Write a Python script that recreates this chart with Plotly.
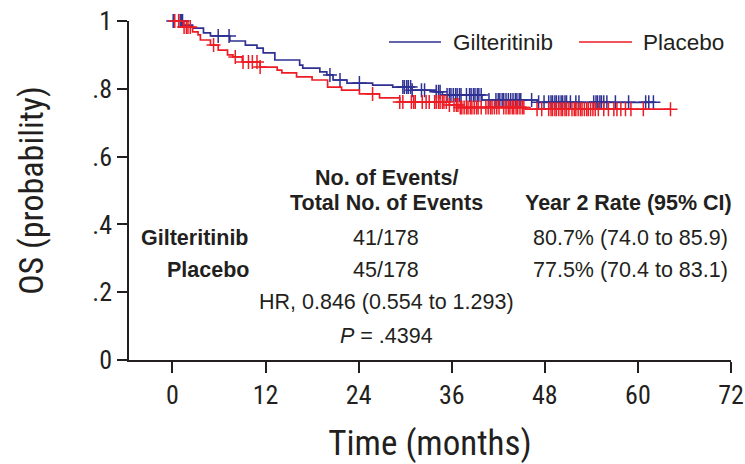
import numpy as np
import plotly.graph_objects as go

# ---- data ----
x_ticks = [0, 12, 24, 36, 48, 60, 72]
y_ticks = [0, 0.2, 0.4, 0.6, 0.8, 1.0]
y_tick_labels = ["0", ".2", ".4", ".6", ".8", "1"]

gilt_times = [0, 1.4, 2.6, 4.0, 4.9, 7.4, 9.4, 10.9, 11.7, 13.2, 16.4, 16.8, 19.0, 19.9,
              20.7, 22.5, 25.8, 28.4, 30.9, 34.0, 34.8, 39.9, 47.0]
gilt_surv = [1.0, 0.988, 0.979, 0.965, 0.956, 0.941, 0.929, 0.920, 0.906, 0.885, 0.870, 0.861,
             0.850, 0.841, 0.826, 0.817, 0.811, 0.805, 0.796, 0.791, 0.782, 0.767, 0.760]
gilt_end = 62.0
gilt_censor = [0.1, 1.0, 1.2, 1.3, 5.9, 7.3, 20.3, 21.6, 24.1,
               29.7, 29.9, 30.2, 30.4, 30.7, 30.9, 32.1, 32.5, 34.0, 34.3, 34.5,
               35.4, 35.7, 35.9, 36.2, 36.5, 36.7, 37.0, 37.2, 37.9,
               38.3, 38.5, 38.8, 39.0, 39.3, 39.5, 39.8, 40.8,
               41.7, 42.0, 42.2, 42.5, 42.7, 43.0, 43.3, 43.6, 43.9, 44.2, 44.4, 44.7, 44.9,
               46.3, 47.2, 47.9, 48.5, 48.8, 49.0, 49.3, 49.5, 49.8, 50.1, 50.3, 50.6, 50.8,
               51.3, 52.0, 52.4, 54.3, 54.6, 54.8, 55.1, 55.3, 55.6, 56.0, 57.1, 58.8,
               61.0, 61.4, 62.0]

plac_times = [0, 1.4, 2.6, 3.3, 3.6, 4.9, 5.9, 7.1, 7.8, 9.0, 11.3, 13.5, 14.1, 16.0, 18.0,
              20.0, 21.8, 24.1, 26.7, 29.3, 35.7, 37.0, 45.5]
plac_surv = [1.0, 0.982, 0.968, 0.959, 0.944, 0.929, 0.914, 0.900, 0.894, 0.879, 0.864, 0.855,
             0.847, 0.835, 0.826, 0.805, 0.796, 0.785, 0.773, 0.761, 0.752, 0.745, 0.740]
plac_end = 64.2
plac_censor = [0.3, 0.8, 1.5, 1.8, 2.0, 2.3, 5.3, 8.1, 9.1, 9.8, 10.3, 10.9, 11.3, 25.8,
               29.3, 29.7, 30.8, 31.1, 31.3, 32.2, 32.7, 33.1,
               33.8, 34.0, 34.3, 34.5, 34.8, 35.0, 35.3, 35.7,
               36.3, 36.6, 36.8, 37.1, 37.3, 37.6, 37.9, 38.1, 38.4, 38.6, 38.9, 39.2, 39.4, 39.8,
               40.4, 40.7, 41.0, 41.2, 41.5, 41.8, 42.1,
               42.7, 43.0, 43.3, 43.5, 43.8, 44.0, 44.3, 44.5, 44.8, 45.1, 45.3, 47.0, 47.6,
               48.5, 48.8, 49.0, 49.3, 49.5, 49.8, 50.1, 50.3, 50.6, 50.8, 51.1,
               51.5, 51.8, 52.0, 52.3, 52.6, 52.8, 53.1, 53.4, 53.6, 53.9, 54.2, 54.5, 54.9,
               55.6, 56.2, 56.9, 57.3, 57.8, 58.4, 59.1, 60.7, 64.2]

BLUE = "#2E3192"
RED = "#ED1C24"
TXT = "#231F20"

W, H = 745, 464
ML, MR, MT, MB = 129, 14, 21, 104
PW, PH = W - ML - MR, H - MT - MB


def step_at(times, surv, t):
    idx = np.searchsorted(np.asarray(times), np.asarray(t), side="right") - 1
    return np.asarray(surv)[idx]


fig = go.Figure()

for name, times, surv, end, cens, col in [
    ("Gilteritinib", gilt_times, gilt_surv, gilt_end, gilt_censor, BLUE),
    ("Placebo", plac_times, plac_surv, plac_end, plac_censor, RED),
]:
    xs = list(times) + [end]
    ys = list(surv) + [surv[-1]]
    fig.add_trace(go.Scatter(x=xs, y=ys, mode="lines", name=name, showlegend=False,
                             line=dict(color=col, width=1.7, shape="hv"),
                             cliponaxis=False))
    fig.add_trace(go.Scatter(x=cens, y=step_at(times, surv, cens), mode="markers",
                             showlegend=False,
                             marker=dict(symbol="cross-thin", size=10,
                                         line=dict(color=col, width=1.5)),
                             cliponaxis=False))

FONT = "Liberation Sans, Arial, sans-serif"
NARROW = "Liberation Sans Narrow, Arial Narrow, Roboto Condensed, Liberation Sans, sans-serif"


def pxx(px):
    return (px - ML) / PW


def pxy(py):
    return (H - MB - py) / PH


ann = []
shapes = []


def add(text, px, py, xanchor="center", bold=False, size=21.5):
    if bold:
        text = "<b>" + text + "</b>"
    ann.append(dict(text=text, x=pxx(px), y=pxy(py), xref="paper", yref="paper",
                    xanchor=xanchor, yanchor="middle", showarrow=False,
                    font=dict(family=FONT, size=size, color=TXT)))


add("No. of Events/", 386, 178, bold=True)
add("Total No. of Events", 386, 203, bold=True)
add("Year 2 Rate (95% CI)", 628, 203, bold=True)
add("Gilteritinib", 251, 238, xanchor="right", bold=True)
add("Placebo", 251, 270, xanchor="right", bold=True)
add("41/178", 386, 238)
add("45/178", 386, 270)
add("80.7% (74.0 to 85.9)", 630, 238)
add("77.5% (70.4 to 83.1)", 630, 270)
add("HR, 0.846 (0.554 to 1.293)", 386, 302)
add("<i>P</i> = .4394", 386, 336)

# legend drawn as line samples + labels
legend_items = [("Gilteritinib", BLUE, 389, 441, 451), ("Placebo", RED, 579, 632, 641)]
for label, col, x0, x1, xt in legend_items:
    shapes.append(dict(type="line", xref="paper", yref="paper", x0=pxx(x0), x1=pxx(x1),
                       y0=pxy(42), y1=pxy(42), line=dict(color=col, width=1.6)))
    add(label, xt, 42, xanchor="left", size=22.5)

fig.update_layout(
    width=W, height=H,
    margin=dict(l=ML, r=MR, t=MT, b=MB),
    paper_bgcolor="white", plot_bgcolor="white",
    showlegend=False,
    annotations=ann, shapes=shapes,
    xaxis=dict(range=[-5.6, 72], tickvals=x_ticks, ticks="outside", ticklen=11,
               tickwidth=1.5, tickcolor=TXT, showline=True, linecolor=TXT, linewidth=1.5,
               showgrid=False, zeroline=False, automargin=False,
               tickfont=dict(family=NARROW, size=26, color=TXT),
               title=dict(text="Time (months)", standoff=36,
                          font=dict(family=NARROW, size=35, color=TXT))),
    yaxis=dict(range=[0, 1], tickvals=y_ticks, ticktext=y_tick_labels, ticks="outside",
               ticklen=10, tickwidth=1.5, tickcolor=TXT, showline=True, linecolor=TXT,
               linewidth=1.5, showgrid=False, zeroline=False, automargin=False,
               tickfont=dict(family=NARROW, size=26, color=TXT),
               title=dict(text="OS (probability)", standoff=38,
                          font=dict(family=NARROW, size=34, color=TXT))),
)

fig.write_html("out.html", config={"displayModeBar": False},
               post_script="document.body.style.margin='0';document.body.style.overflow='hidden';")
